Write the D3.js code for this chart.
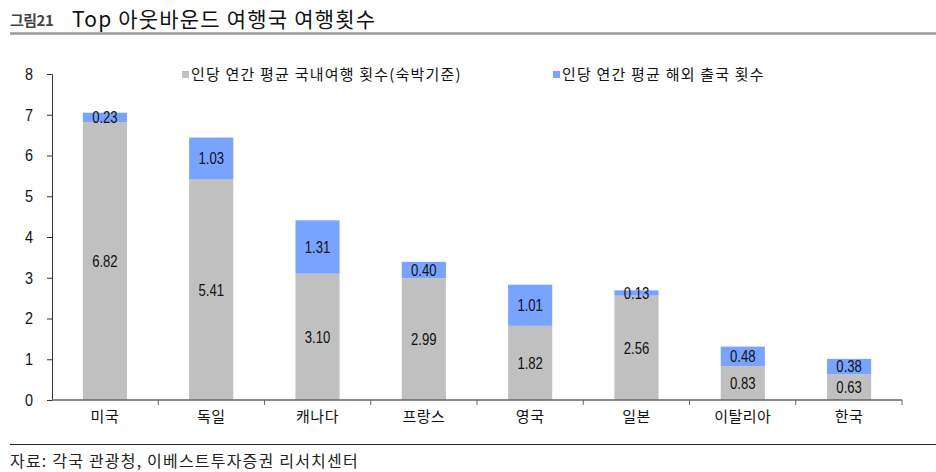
<!DOCTYPE html>
<html><head><meta charset="utf-8">
<script src="https://cdn.jsdelivr.net/npm/d3@7"></script>
<style>
body{margin:0;background:#fff;}
svg{display:block;}
</style></head>
<body>
<svg id="chart" width="936" height="472"></svg>
<script>
const categories = ["미국","독일","캐나다","프랑스","영국","일본","이탈리아","한국"];
const domestic = [6.82,5.41,3.10,2.99,1.82,2.56,0.83,0.63];
const overseas = [0.23,1.03,1.31,0.40,1.01,0.13,0.48,0.38];
const seriesNames = ["인당 연간 평균 국내여행 횟수(숙박기준)","인당 연간 평균 해외 출국 횟수"];
const yTicks = [0,1,2,3,4,5,6,7,8];
const colors = ["#c0c0c0","#78a3ff"];

const svg = d3.select("#chart");
const KR = "'Noto Sans CJK KR','Noto Sans',sans-serif";
const NUM = "'Liberation Sans',Arial,sans-serif";

// title
svg.append("text").attr("x",10).attr("y",26).attr("font-family",KR).attr("font-size",15).attr("font-weight","bold").attr("fill","#444").attr("letter-spacing",-0.5).text("그림21");
svg.append("text").attr("x",72).attr("y",27).attr("font-family",KR).attr("font-size",21).attr("fill","#111").attr("letter-spacing",1.2).text("Top 아웃바운드 여행국 여행횟수");
svg.append("line").attr("x1",10).attr("x2",936).attr("y1",33.5).attr("y2",33.5).attr("stroke","#9a9a9a").attr("stroke-width",2.5);

const x0=52, x1=902, yTop=74, yBot=400;
const x = d3.scaleBand().domain(categories).range([x0,x1]).paddingInner(0.585).paddingOuter(0.29);
const y = d3.scaleLinear().domain([0,8]).range([yBot,yTop]);

const stackData = categories.map((c,i)=>({cat:c, d:domestic[i], o:overseas[i]}));
const stack = d3.stack().keys(["d","o"])(stackData);

const g = svg.append("g");
stack.forEach((layer,li)=>{
  g.selectAll(null).data(layer).enter().append("rect")
    .attr("x",d=>x(d.data.cat)).attr("width",x.bandwidth())
    .attr("y",d=>y(d[1])).attr("height",d=>y(d[0])-y(d[1]))
    .attr("fill",colors[li]);
  g.selectAll(null).data(layer).enter().append("text")
    .attr("transform",d=>`translate(${x(d.data.cat)+x.bandwidth()/2},${(y(d[0])+y(d[1]))/2}) scale(0.82,1)`)
    .attr("dy","0.36em").attr("text-anchor","middle")
    .attr("font-family",NUM).attr("font-size",16).attr("fill","#111")
    .text(d=>(d[1]-d[0]).toFixed(2));
});

// y axis
const yAxis = d3.axisLeft(y).tickValues(yTicks).tickSize(5).tickFormat(d3.format("d"));
const ya = svg.append("g").attr("transform",`translate(${x0},0)`).call(yAxis);
ya.select(".domain").attr("stroke","#333");
ya.selectAll(".tick line").attr("stroke","#333");
ya.selectAll(".tick text").attr("font-family",NUM).attr("font-size",17).attr("fill","#111")
  .attr("x",null).attr("text-anchor","middle").attr("transform","translate(-23,0) scale(0.85,1)");

// x axis
const xa = svg.append("g").attr("transform",`translate(0,${yBot})`);
xa.append("line").attr("x1",x0).attr("x2",x1).attr("stroke","#666").attr("stroke-width",1.5);
const edges = d3.range(categories.length+1).map(i=>x0+i*(x1-x0)/categories.length);
xa.selectAll(null).data(edges.slice(1)).enter().append("line")
  .attr("x1",d=>d).attr("x2",d=>d).attr("y1",0).attr("y2",5).attr("stroke","#666");
xa.selectAll(null).data(categories).enter().append("text")
  .attr("x",d=>x(d)+x.bandwidth()/2).attr("y",22).attr("text-anchor","middle")
  .attr("font-family",KR).attr("font-size",15).attr("letter-spacing",0.5).attr("fill","#111").text(d=>d);

// legend
const legX=[182,553];
seriesNames.forEach((n,i)=>{
  svg.append("rect").attr("x",legX[i]).attr("y",71).attr("width",7).attr("height",7).attr("fill",colors[i]);
  svg.append("text").attr("x",legX[i]+9).attr("y",80).attr("font-family",KR).attr("font-size",15).attr("letter-spacing",1.2).attr("fill","#111").text(n);
});

// source
svg.append("line").attr("x1",10).attr("x2",936).attr("y1",444.5).attr("y2",444.5).attr("stroke","#222").attr("stroke-width",1.2);
svg.append("text").attr("x",10).attr("y",467).attr("font-family",KR).attr("font-size",16).attr("letter-spacing",1.2).attr("fill","#222").text("자료: 각국 관광청, 이베스트투자증권 리서치센터");
</script>
</body></html>
